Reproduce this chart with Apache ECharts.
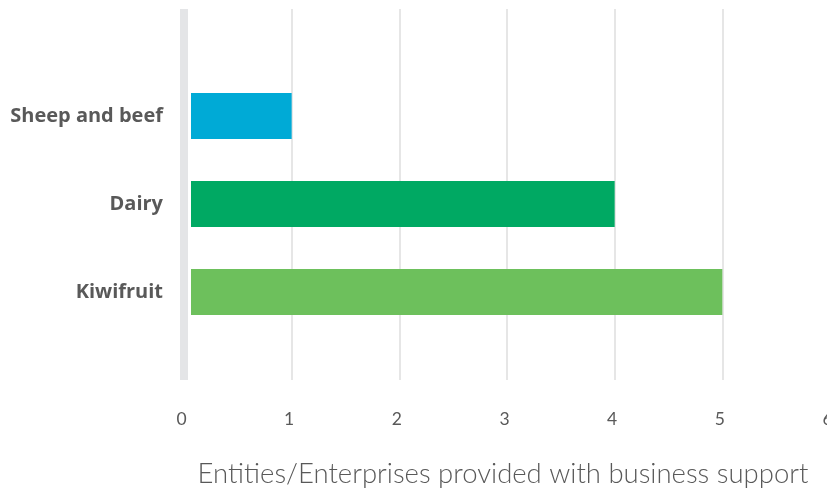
<!DOCTYPE html>
<html>
<head>
<meta charset="utf-8">
<script src="https://cdn.jsdelivr.net/npm/echarts@6/dist/echarts.min.js"></script>
<style>
  html, body { margin: 0; padding: 0; background: #ffffff; }
  #chart { width: 827px; height: 496px; }
</style>
</head>
<body>
<div id="chart"></div>
<script>
// Sectors and number of entities/enterprises given business support
const categories = ['Sheep and beef', 'Dairy', 'Kiwifruit'];
const values = [1, 4, 5];
const barColors = ['#00AAD6', '#00A963', '#6DC05C'];
const xTicks = [0, 1, 2, 3, 4, 5, 6];
const axisTitle = 'Entities/Enterprises provided with business support';

const chart = echarts.init(document.getElementById('chart'));

const option = {
  backgroundColor: '#ffffff',
  animation: false,
  grid: [
    // bar area
    { left: 184, right: -3, top: 72, bottom: 160, outerBoundsMode: 'none', containLabel: false },
    // frame: gridlines, value labels, axis title
    { left: 184, right: -3, top: 9, bottom: 116, outerBoundsMode: 'none', containLabel: false }
  ],
  xAxis: [
    {
      gridIndex: 0, type: 'value',
      min: xTicks[0], max: xTicks[xTicks.length - 1], interval: 1,
      show: false
    },
    {
      gridIndex: 1, type: 'value',
      min: xTicks[0], max: xTicks[xTicks.length - 1], interval: 1,
      axisLine: { show: false },
      axisTick: { show: false },
      splitLine: { show: true, lineStyle: { color: '#e6e6e6', width: 2, cap: 'butt' } },
      axisLabel: {
        margin: 30,
        color: '#595959',
        fontSize: 17.5,
        fontWeight: 'normal',
        fontFamily: 'Lato',
        padding: [0, 5, 0, 0],
        hideOverlap: false,
        formatter: v => xTicks.includes(v) ? String(v) : ''
      },
      name: axisTitle,
      nameLocation: 'middle',
      nameGap: 80,
      nameTextStyle: {
        color: '#595959',
        fontSize: 27.5,
        fontWeight: 300,
        fontFamily: 'Lato',
        padding: [0, 8, 0, 0]
      }
    }
  ],
  yAxis: [
    {
      gridIndex: 0, type: 'category', inverse: true,
      data: categories,
      z: 5,
      axisLine: { show: true, lineStyle: { color: '#ffffff', width: 14, cap: 'butt' } },
      axisTick: { show: false },
      splitLine: { show: false },
      axisLabel: {
        margin: 21,
        color: '#595959',
        fontSize: 20,
        fontWeight: 'bold',
        fontFamily: 'Open Sans'
      }
    },
    {
      gridIndex: 1, type: 'category',
      data: categories,
      z: 6,
      axisLine: { show: true, lineStyle: { color: '#e4e5e7', width: 8, cap: 'butt' } },
      axisTick: { show: false },
      axisLabel: { show: false },
      splitLine: { show: false }
    }
  ],
  series: [
    {
      type: 'bar',
      xAxisIndex: 0,
      yAxisIndex: 0,
      barWidth: 46,
      z: 2,
      data: values.map((v, i) => ({ value: v, itemStyle: { color: barColors[i] } }))
    }
  ]
};

chart.setOption(option);
</script>
</body>
</html>
